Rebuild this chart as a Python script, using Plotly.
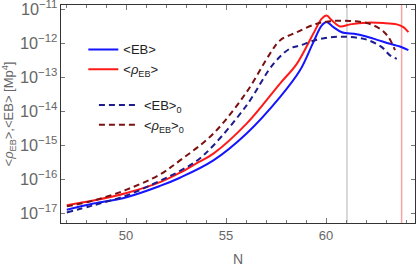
import plotly.graph_objects as go

# ---- data ----
N_EB = [47.04, 48.37, 50.03, 51.7, 52.7, 54.37, 56.03, 57.7, 58.7, 59.37, 59.79,
        60.03, 60.37, 60.79, 61.54, 62.37, 63.2, 63.7, 64.12]
EB = [1.26e-17, 1.91e-17, 2.95e-17, 6.31e-17, 1.10e-16, 3.55e-16, 2.19e-15, 2.57e-14,
      1.58e-13, 1.07e-12, 3.31e-12, 4.17e-12, 2.95e-12, 2.09e-12, 1.82e-12, 1.35e-12,
      9.55e-13, 7.94e-13, 6.17e-13]

N_RHO = [47.04, 48.37, 50.03, 51.7, 52.7, 53.54, 54.37, 56.03, 57.7, 58.54, 59.37,
         59.79, 60.03, 60.29, 60.7, 61.2, 62.04, 62.87, 63.54, 63.87, 64.12]
RHO = [1.70e-17, 2.34e-17, 3.89e-17, 8.13e-17, 1.55e-16, 2.95e-16, 5.62e-16, 4.27e-15,
       6.46e-14, 2.45e-13, 1.91e-12, 5.25e-12, 6.46e-12, 4.68e-12, 3.09e-12, 3.55e-12,
       3.98e-12, 3.89e-12, 3.55e-12, 2.95e-12, 2.09e-12]

N_EB0 = [47.04, 48.37, 50.03, 51.7, 52.7, 53.54, 54.37, 56.03, 57.37, 58.2, 58.7,
         59.54, 60.37, 61.2, 62.04, 62.79, 63.2, 63.54]
EB0 = [1.05e-17, 1.70e-17, 3.31e-17, 8.91e-17, 1.74e-16, 3.47e-16, 9.77e-16, 1.48e-14,
       2.45e-13, 6.92e-13, 8.51e-13, 1.26e-12, 1.51e-12, 1.51e-12, 1.26e-12, 7.59e-13,
       4.37e-13, 3.47e-13]

N_RHO0 = [47.04, 48.37, 50.03, 51.7, 52.7, 54.37, 56.03, 57.2, 57.7, 58.54, 59.54,
          60.37, 61.2, 62.04, 62.7, 63.12, 63.45]
RHO0 = [1.58e-17, 2.34e-17, 4.90e-17, 1.38e-16, 3.55e-16, 2.19e-15, 3.63e-14, 4.90e-13,
        1.20e-12, 2.09e-12, 3.72e-12, 4.47e-12, 4.47e-12, 3.89e-12, 2.63e-12, 1.51e-12,
        6.17e-13]

VLINE_N = [61.05, 63.78]
VLINE_COLORS = ["#cccccc", "#f4a4a4"]

X_TICKS = [50, 55, 60]

FONT = "Liberation Sans, Arial, sans-serif"
GRAY = "#666666"

fig = go.Figure()

fig.add_trace(go.Scatter(x=N_EB, y=EB, mode="lines", line=dict(color="#1414ff", width=2, shape="spline"),
                         name="&lt;EB&gt;", legend="legend"))
fig.add_trace(go.Scatter(x=N_RHO, y=RHO, mode="lines", line=dict(color="#ff1a1a", width=2, shape="spline"),
                         name="&lt;<i>ρ</i><sub>EB</sub>&gt;", legend="legend"))
fig.add_trace(go.Scatter(x=N_EB0, y=EB0, mode="lines",
                         line=dict(color="#1c1c8c", width=2, dash="6px,4px", shape="spline"),
                         name="&lt;EB&gt;<sub>0</sub>", legend="legend2"))
fig.add_trace(go.Scatter(x=N_RHO0, y=RHO0, mode="lines",
                         line=dict(color="#7a1010", width=2, dash="6px,4px", shape="spline"),
                         name="&lt;<i>ρ</i><sub>EB</sub>&gt;<sub>0</sub>", legend="legend2"))

for xv, c in zip(VLINE_N, VLINE_COLORS):
    fig.add_vline(x=xv, line=dict(color=c, width=1.5), layer="below")

axis_common = dict(
    showgrid=False, zeroline=False, showline=True, linecolor="#333333", linewidth=1,
    mirror="allticks", ticks="inside", tickcolor="#777777", automargin=False,
    ticklabeloverflow="allow",
    tickfont=dict(family=FONT, size=13, color=GRAY),
)

fig.update_layout(
    width=420, height=268,
    margin=dict(l=61, r=5, t=5, b=45),
    paper_bgcolor="white", plot_bgcolor="white",
    font=dict(family=FONT, size=13, color=GRAY),
    xaxis=dict(range=[46.75, 64.45], tickvals=X_TICKS, ticklen=5,
               minor=dict(dtick=1, ticks="inside", ticklen=3, tickcolor="#777777"),
               title=dict(text="N", font=dict(family=FONT, size=14, color=GRAY), standoff=12),
               **axis_common),
    yaxis=dict(type="log", range=[-17.29, -10.88], dtick=1, exponentformat="power", ticklen=4,
               title=dict(text="&lt;<i>ρ</i><sub>EB</sub>&gt;,&lt;EB&gt; [Mp<sup>4</sup>]",
                          font=dict(family=FONT, size=13, color=GRAY), standoff=4),
               **axis_common),
    legend=dict(x=0.063, y=0.865, xanchor="left", yanchor="top", bgcolor="rgba(0,0,0,0)",
                font=dict(family=FONT, size=13, color="#222222"), tracegroupgap=0),
    legend2=dict(x=0.093, y=0.61, xanchor="left", yanchor="top", bgcolor="rgba(0,0,0,0)",
                 font=dict(family=FONT, size=13, color="#222222"), itemwidth=40, tracegroupgap=0),
)

fig.write_html("out.html", config={"displayModeBar": False},
               post_script="document.body.style.margin='0';document.body.style.overflow='hidden';")
